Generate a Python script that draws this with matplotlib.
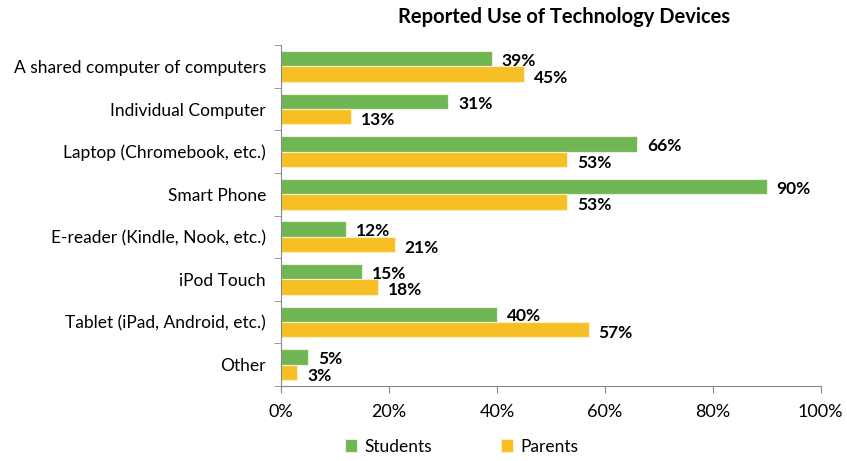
import matplotlib.pyplot as plt
import numpy as np
from matplotlib.ticker import PercentFormatter

plt.rcParams['font.family'] = ['Lato', 'DejaVu Sans']

categories = ["A shared computer of computers", "Individual Computer",
              "Laptop (Chromebook, etc.)", "Smart Phone",
              "E-reader (Kindle, Nook, etc.)", "iPod Touch",
              "Tablet (iPad, Android, etc.)", "Other"]
students = [39, 31, 66, 90, 12, 15, 40, 5]
parents = [45, 13, 53, 53, 21, 18, 57, 3]

green = "#71b655"
yellow = "#f6c025"

fig = plt.figure(figsize=(8.47, 4.61), dpi=100)
ax = fig.add_axes([0.332, 0.163, 0.637, 0.739])

y = np.arange(len(categories))
h = 0.36
ax.barh(y - h / 2, students, height=h, color=green, edgecolor="#e8f0e0", linewidth=0.8, label="Students")
ax.barh(y + h / 2, parents, height=h, color=yellow, edgecolor="#fbeec8", linewidth=0.8, label="Parents")

for i in range(len(categories)):
    ax.text(students[i] + 1.8, y[i] - h / 2 + 0.05, f"{students[i]}%", va="center", ha="left",
            fontsize=12.5, fontweight="bold")
    ax.text(parents[i] + 1.8, y[i] + h / 2 + 0.08, f"{parents[i]}%", va="center", ha="left",
            fontsize=12.5, fontweight="bold")

ax.set_ylim(len(categories) - 0.5, -0.5)
ax.set_xlim(0, 100)
ax.set_xticks(np.arange(0, 101, 20))
ax.xaxis.set_major_formatter(PercentFormatter(decimals=0))
ax.set_yticks(y)
ax.set_yticklabels(categories, fontsize=12.5)
ax.set_yticks(np.arange(-0.5, len(categories)), minor=True)
ax.tick_params(axis="y", which="major", length=0, pad=11)
ax.tick_params(axis="y", which="minor", length=5, color="#888888")
ax.tick_params(axis="x", length=5, color="#888888", labelsize=13, pad=8)

for s in ["top", "right"]:
    ax.spines[s].set_visible(False)
ax.spines["left"].set_color("#888888")
ax.spines["bottom"].set_color("#888888")

fig.suptitle("Reported Use of Technology Devices", x=0.666, y=0.985, fontsize=14.5, fontweight="bold")
fig.legend(loc="lower center", bbox_to_anchor=(0.545, -0.02), ncol=2, frameon=False, fontsize=12.5,
           handlelength=0.7, handleheight=0.7, handletextpad=0.4, columnspacing=4.0)

fig.savefig("out.png", dpi=100)
